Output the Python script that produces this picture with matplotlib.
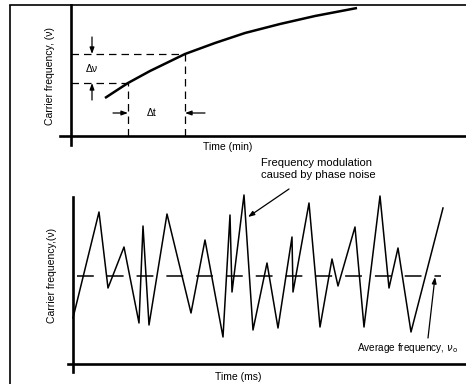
# Carrier frequency drift (minutes) vs. phase-noise FM (milliseconds)

import matplotlib.pyplot as plt

plt.rcParams['font.family'] = ['Liberation Sans', 'DejaVu Sans']
plt.rcParams['font.size'] = 7.5

# top panel: slow drift of the carrier, arbitrary units
drift_t = [3.4, 5.7, 7.9, 11.4, 14.4, 17.4, 20.9, 24.4, 28.6]
drift_f = [3.8, 5.3, 6.5, 8.2, 9.3, 10.3, 11.2, 12.0, 12.8]

# the two marked points used for delta-nu / delta-t
mark_t = [5.7, 11.4]
mark_f = [5.3, 8.2]

# bottom panel: fast frequency jumps caused by phase noise
fm_t = [0.0, 2.6, 3.5, 5.1, 6.6, 7.0, 7.6, 9.4, 11.8, 13.2, 15.0, 15.7, 15.9,
        17.1, 18.0, 19.4, 20.5, 21.9, 22.0, 23.6, 24.7, 25.9, 26.5, 28.2,
        29.1, 30.7, 31.6, 32.5, 33.8, 37.0]
fm_f = [4.6, 15.2, 7.6, 11.7, 4.1, 13.8, 3.9, 15.0, 5.1, 12.4, 2.7, 14.9, 7.2,
        16.9, 3.4, 10.1, 3.6, 12.7, 7.2, 16.1, 3.7, 10.5, 7.8, 13.7,
        3.7, 16.8, 7.6, 11.6, 3.2, 15.6]

avg_f = 8.8
avg_t = [0.4, 36.8]

W, H = 466, 384
fig = plt.figure(figsize=(W / 100, H / 100), dpi=100)

# outer frame lines (left and top)
fig.add_artist(plt.Line2D([10 / W, 10 / W], [0, 1 - 6 / H], color='black', lw=1.2))
fig.add_artist(plt.Line2D([10 / W, 1], [1 - 5 / H, 1 - 5 / H], color='black', lw=1.2))


def cross_axes(ax, xlim, ylim):
    # axes drawn as a plain cross through the origin, no ticks
    ax.set_xlim(*xlim)
    ax.set_ylim(*ylim)
    for s in ['top', 'right']:
        ax.spines[s].set_visible(False)
    for s in ['left', 'bottom']:
        ax.spines[s].set_position(('data', 0))
        ax.spines[s].set_linewidth(1.9)
    ax.set_xticks([])
    ax.set_yticks([])
    ax.patch.set_visible(False)


# top panel
ax1 = fig.add_axes([60 / W, 1 - 145 / H, 406 / W, 140 / H])
cross_axes(ax1, (-1.1, 39.5), (-0.9, 13.1))
ax1.plot(drift_t, drift_f, color='black', lw=1.8, solid_capstyle='butt')

dash = dict(color='black', lw=0.9, dashes=(6, 4))
for t, f in zip(mark_t, mark_f):
    ax1.plot([0, t], [f, f], **dash)
    ax1.plot([t, t], [0, f], **dash)

arr = dict(arrowstyle='-|>,head_length=0.5,head_width=0.18', color='black', lw=0.9,
           shrinkA=0, shrinkB=0)
ax1.annotate('', xy=(2.1, mark_f[1]), xytext=(2.1, 9.9), arrowprops=arr)
ax1.annotate('', xy=(2.1, mark_f[0]), xytext=(2.1, 3.6), arrowprops=arr)
ax1.text(2.1, 6.7, 'Δν', ha='center', va='center')
ax1.annotate('', xy=(mark_t[0], 2.3), xytext=(4.2, 2.3), arrowprops=arr)
ax1.annotate('', xy=(mark_t[1], 2.3), xytext=(13.4, 2.3), arrowprops=arr)
ax1.text(8.1, 2.3, 'Δt', ha='center', va='center')

# bottom panel
ax2 = fig.add_axes([68 / W, 1 - 372 / H, 398 / W, 175 / H])
cross_axes(ax2, (-0.5, 39.3), (-0.8, 16.7))
ax2.plot(fm_t, fm_f, color='black', lw=1.1, clip_on=False)
ax2.plot(avg_t, [avg_f, avg_f], color='black', lw=1.1, dashes=(11, 8.5))

ax2.text(18.8, 19.5, 'Frequency modulation\ncaused by phase noise', ha='left',
         va='center', linespacing=1.2, fontsize=8)
ax2.annotate('', xy=(17.5, 14.7), xytext=(21.6, 17.5), arrowprops=arr,
             annotation_clip=False)
ax2.text(28.4, 1.6, 'Average frequency, $\\nu_\\mathrm{o}$', ha='left', va='center',
         fontsize=7.2)
ax2.annotate('', xy=(36.2, avg_f - 0.1), xytext=(35.5, 2.6), arrowprops=arr)

# axis labels
fig.text(50 / W, 1 - 76 / H, 'Carrier frequency, (ν)', rotation=90, ha='center', va='center')
fig.text(52 / W, 1 - 275 / H, 'Carrier frequency,(ν)', rotation=90, ha='center', va='center')
fig.text(228 / W, 1 - 147 / H, 'Time (min)', ha='center', va='center')
fig.text(238 / W, 1 - 377 / H, 'Time (ms)', ha='center', va='center')

fig.savefig('out.png', dpi=100)
